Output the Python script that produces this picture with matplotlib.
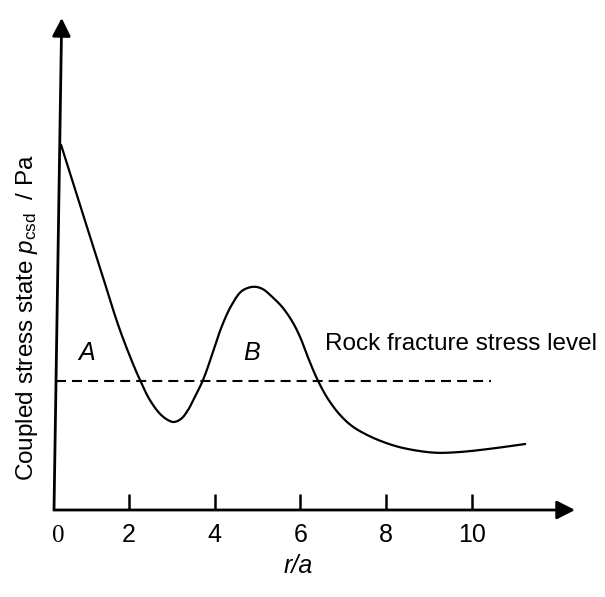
import numpy as np
import matplotlib
matplotlib.use("Agg")
import matplotlib.pyplot as plt

plt.rcParams["font.family"] = ["Liberation Sans", "DejaVu Sans"]
plt.rcParams["mathtext.fontset"] = "custom"
plt.rcParams["mathtext.rm"] = "Liberation Sans"
plt.rcParams["mathtext.it"] = "Liberation Sans:italic"

# Coupled stress state along the radial distance r/a (arbitrary stress units)
r_over_a = [0.42, 0.86, 1.33, 1.75, 2.03, 2.26, 2.49, 2.73, 2.91, 3.05,
            3.22, 3.38, 3.54, 3.73, 3.94, 4.17, 4.41, 4.64, 4.90, 5.11,
            5.34, 5.57, 5.80, 5.99, 6.20, 6.41, 6.64, 6.92, 7.20, 7.51,
            7.86, 8.28, 8.74, 9.18, 9.72, 10.42, 11.24]
p_csd = [9.13, 7.63, 6.05, 4.63, 3.83, 3.25, 2.75, 2.40, 2.25, 2.20,
         2.28, 2.50, 2.83, 3.25, 3.88, 4.60, 5.15, 5.48, 5.58, 5.53,
         5.33, 5.08, 4.73, 4.33, 3.75, 3.23, 2.78, 2.38, 2.10, 1.90,
         1.73, 1.58, 1.48, 1.43, 1.45, 1.53, 1.65]

# Rock fracture stress threshold and its drawn extent
fracture_level = 3.22
fracture_span = (0.30, 10.45)

x_ticks = [2, 4, 6, 8, 10]
x_tick_labels = ["2", "4", "6", "8", "10"]

xlim = (0.256, 12.40)
ylim = (0.0, 12.3)


def smooth_path(x, y, n=16):
    """Centripetal Catmull-Rom rendering through the given points."""
    p = np.column_stack([x, y]).astype(float)
    p = np.vstack([2 * p[0] - p[1], p, 2 * p[-1] - p[-2]])
    out = []
    for i in range(1, len(p) - 2):
        p0, p1, p2, p3 = p[i - 1], p[i], p[i + 1], p[i + 2]
        t0 = 0.0
        t1 = t0 + np.linalg.norm(p1 - p0) ** 0.5
        t2 = t1 + np.linalg.norm(p2 - p1) ** 0.5
        t3 = t2 + np.linalg.norm(p3 - p2) ** 0.5
        t = np.linspace(t1, t2, n, endpoint=False)[:, None]
        a1 = (t1 - t) / (t1 - t0) * p0 + (t - t0) / (t1 - t0) * p1
        a2 = (t2 - t) / (t2 - t1) * p1 + (t - t1) / (t2 - t1) * p2
        a3 = (t3 - t) / (t3 - t2) * p2 + (t - t2) / (t3 - t2) * p3
        b1 = (t2 - t) / (t2 - t0) * a1 + (t - t0) / (t2 - t0) * a2
        b2 = (t3 - t) / (t3 - t1) * a2 + (t - t1) / (t3 - t1) * a3
        out.append((t2 - t) / (t2 - t1) * b1 + (t - t1) / (t2 - t1) * b2)
    out.append(p[-2][None, :])
    c = np.vstack(out)
    return c[:, 0], c[:, 1]


fig = plt.figure(figsize=(6.05, 5.97), dpi=100)
ax = fig.add_axes([54 / 605, 1 - 510 / 597, (575 - 54) / 605, (510 - 18) / 597])
ax.set_xlim(*xlim)
ax.set_ylim(*ylim)
for s in ax.spines.values():
    s.set_visible(False)

# axis arrows
arrow_kw = dict(arrowstyle="-|>,head_length=0.55,head_width=0.28",
                mutation_scale=20, color="black", lw=2.0,
                shrinkA=0, shrinkB=0)
ax.annotate("", xy=(xlim[1], 0), xytext=(xlim[0], 0),
            arrowprops=arrow_kw, annotation_clip=False)
ax.annotate("", xy=(0.436, ylim[1]), xytext=(xlim[0], 0),
            arrowprops=arrow_kw, annotation_clip=False)

# ticks
ax.set_xticks(x_ticks)
ax.set_xticklabels(x_tick_labels, fontsize=18)
ax.tick_params(axis="x", direction="in", length=11.5, width=1.8, pad=9)
ax.set_yticks([])
ax.annotate("0", xy=(0, 0), xycoords="axes fraction", xytext=(3, -11),
            textcoords="offset points", ha="center", va="top",
            fontsize=18, family="Liberation Serif")

# curve and fracture threshold
sx, sy = smooth_path(r_over_a, p_csd)
ax.plot(sx, sy, color="black", lw=1.6, solid_joinstyle="round",
        solid_capstyle="round", clip_on=False)
ax.plot(fracture_span, [fracture_level, fracture_level], color="black",
        lw=1.5, linestyle=(0, (4.8, 2.9)))

ax.text(1.02, 3.93, "A", style="italic", fontsize=18, ha="center", va="center")
ax.text(4.85, 3.93, "B", style="italic", fontsize=18, ha="center", va="center")
ax.text(6.57, 4.0, "Rock fracture stress level", fontsize=17.5,
        ha="left", va="baseline")

fig.text(298 / 605, 1 - 566 / 597, "r/a", style="italic", fontsize=18,
         ha="center", va="center")
fig.text(27 / 605, 1 - 318 / 597, r"Coupled stress state $p_{\rm csd}$  / Pa",
         rotation=90, fontsize=17.5, ha="center", va="center")

fig.savefig("out.png", dpi=100)
